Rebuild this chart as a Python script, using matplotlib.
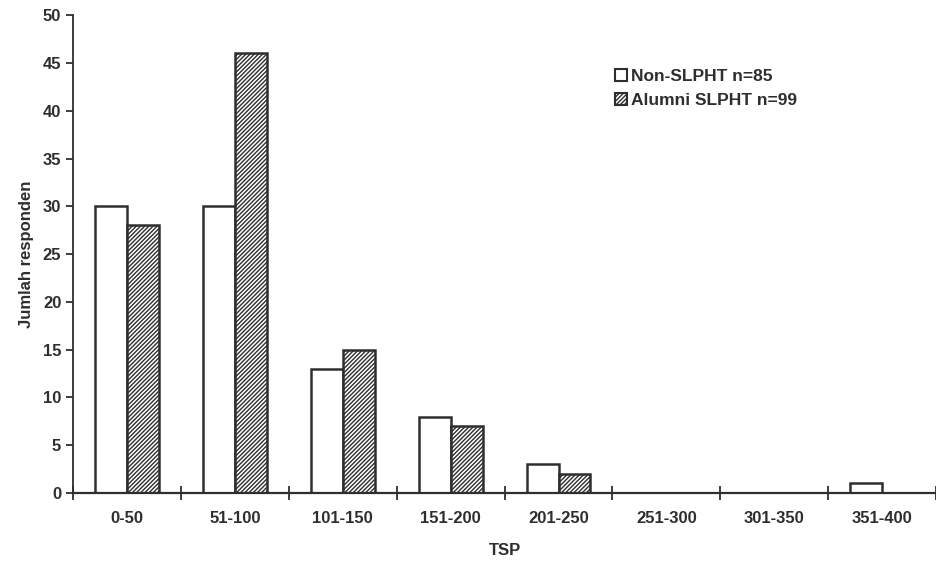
import numpy as np
import matplotlib.pyplot as plt
from matplotlib.patches import Patch

# TSP classes and respondent counts per group
tsp_classes = ['0-50', '51-100', '101-150', '151-200', '201-250',
               '251-300', '301-350', '351-400']
non_slpht = [30, 30, 13, 8, 3, 0, 0, 1]
alumni_slpht = [28, 46, 15, 7, 2, 0, 0, 0]
labels = ['Non-SLPHT n=85', 'Alumni SLPHT n=99']

plt.rcParams['font.family'] = ['Liberation Sans', 'DejaVu Sans']
plt.rcParams['font.weight'] = 'bold'
plt.rcParams['hatch.linewidth'] = 1.0
plt.rcParams['hatch.color'] = '#2a2a2a'

ink = '#2e2e2e'
fs = 12

fig = plt.figure(figsize=(9.37, 5.64), dpi=100)
ax = fig.add_axes([0.078, 0.126, 0.921, 0.847])

x = np.arange(len(tsp_classes))
w = 0.296
ax.bar(x - w / 2, non_slpht, w, color='white', edgecolor=ink, linewidth=1.8)
ax.bar(x + w / 2, alumni_slpht, w, color='white', edgecolor=ink,
       linewidth=1.8, hatch='////////')

ax.set_xlim(-0.5, len(tsp_classes) - 0.5)
ax.set_ylim(0, 50)
ax.set_yticks(range(0, 51, 5))

# category ticks sit on the class boundaries, labels in the middle
ax.set_xticks(np.arange(-0.5, len(tsp_classes), 1.0))
ax.set_xticklabels([])
ax.set_xticks(x, minor=True)
ax.set_xticklabels(tsp_classes, minor=True, fontsize=fs, fontweight='bold', color=ink)
ax.tick_params(axis='x', which='major', direction='inout', length=10, width=1.3, color=ink)
ax.tick_params(axis='x', which='minor', length=0, pad=13)
ax.tick_params(axis='y', direction='out', length=5, width=1.3, color=ink,
               labelsize=fs, labelcolor=ink)
for lab in ax.get_yticklabels():
    lab.set_fontweight('bold')

for s in ['top', 'right']:
    ax.spines[s].set_visible(False)
ax.spines['left'].set_color(ink)
ax.spines['bottom'].set_color(ink)
ax.spines['left'].set_linewidth(1.3)
ax.spines['bottom'].set_linewidth(1.6)

ax.set_ylabel('Jumlah responden', fontsize=fs, fontweight='bold', color=ink, labelpad=6)
ax.set_xlabel('TSP', fontsize=fs, fontweight='bold', color=ink)
ax.xaxis.set_label_coords(0.5, -0.105)

handles = [Patch(facecolor='white', edgecolor=ink, linewidth=1.5),
           Patch(facecolor='white', edgecolor=ink, linewidth=1.5, hatch='////////')]
fig.legend(handles, labels, loc='upper left', bbox_to_anchor=(0.64, 0.905),
           frameon=False, handlelength=0.65, handleheight=0.65, handletextpad=0.25,
           labelspacing=0.5, prop={'size': 12.5, 'weight': 'bold'}, labelcolor=ink)

fig.savefig('out.png', dpi=100)
